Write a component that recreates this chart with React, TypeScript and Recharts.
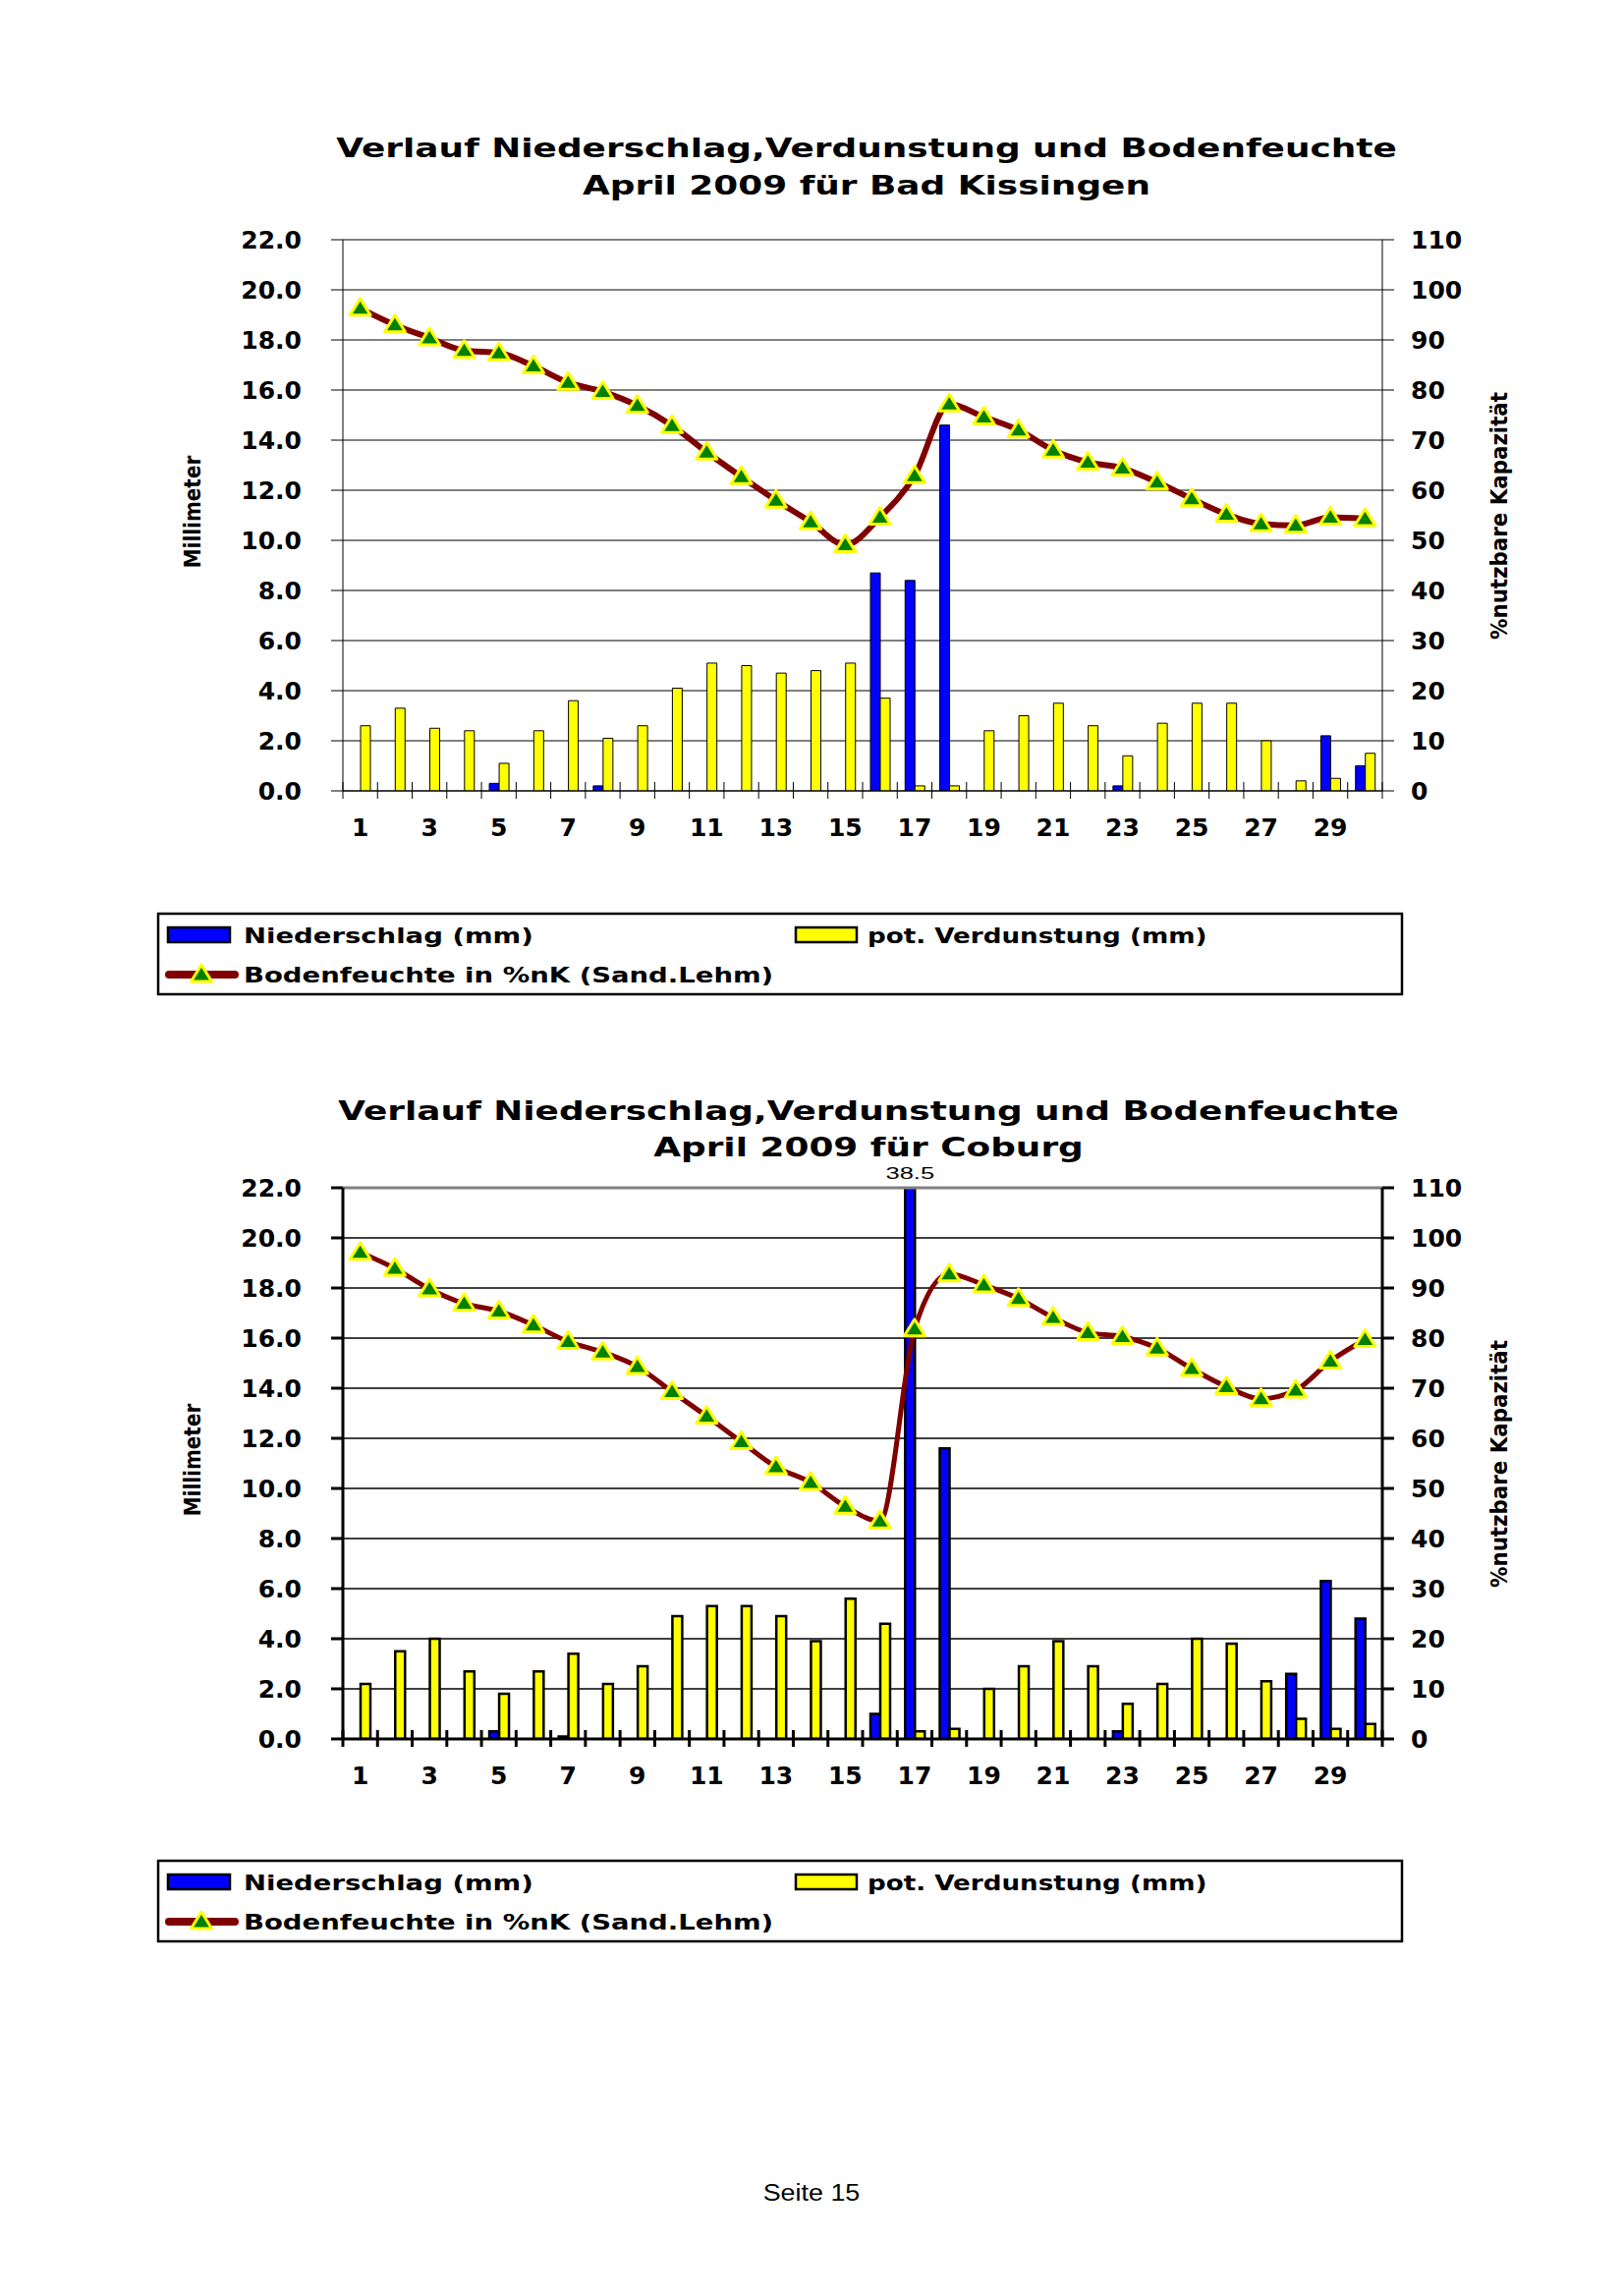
import { ComposedChart, Bar, Line, XAxis, YAxis, CartesianGrid, ReferenceLine, LabelList } from 'recharts';

const days = [1, 2, 3, 4, 5, 6, 7, 8, 9, 10, 11, 12, 13, 14, 15, 16, 17, 18, 19, 20, 21, 22, 23, 24, 25, 26, 27, 28, 29, 30];

// Bad Kissingen
const kissingenNiederschlag = [0, 0, 0, 0, 0.3, 0, 0, 0.2, 0, 0, 0, 0, 0, 0, 0, 8.7, 8.4, 14.6, 0, 0, 0, 0, 0.2, 0, 0, 0, 0, 0, 2.2, 1.0];
const kissingenVerdunstung = [2.6, 3.3, 2.5, 2.4, 1.1, 2.4, 3.6, 2.1, 2.6, 4.1, 5.1, 5.0, 4.7, 4.8, 5.1, 3.7, 0.2, 0.2, 2.4, 3.0, 3.5, 2.6, 1.4, 2.7, 3.5, 3.5, 2.0, 0.4, 0.5, 1.5];
const kissingenBoden = [96.3, 93.0, 90.4, 87.9, 87.4, 84.8, 81.5, 79.7, 76.9, 72.9, 67.6, 62.7, 58.0, 53.7, 49.1, 54.6, 62.9, 77.2, 74.6, 72.0, 68.0, 65.6, 64.4, 61.6, 58.3, 55.2, 53.3, 53.0, 54.6, 54.3];

// Coburg
const coburgNiederschlag = [0, 0, 0, 0, 0.3, 0, 0.1, 0, 0, 0, 0, 0, 0, 0, 0, 1.0, 38.5, 11.6, 0, 0, 0, 0, 0.3, 0, 0, 0, 0, 2.6, 6.3, 4.8];
const coburgVerdunstung = [2.2, 3.5, 4.0, 2.7, 1.8, 2.7, 3.4, 2.2, 2.9, 4.9, 5.3, 5.3, 4.9, 3.9, 5.6, 4.6, 0.3, 0.4, 2.0, 2.9, 3.9, 2.9, 1.4, 2.2, 4.0, 3.8, 2.3, 0.8, 0.4, 0.6];
const coburgBoden = [97.1, 93.9, 89.8, 86.9, 85.4, 82.6, 79.3, 77.2, 74.3, 69.3, 64.4, 59.3, 54.3, 51.2, 46.4, 43.5, 81.8, 92.8, 90.6, 87.9, 84.1, 81.1, 80.3, 78.0, 73.9, 70.3, 67.9, 69.6, 75.4, 79.7];

const mmTicks = [0, 2, 4, 6, 8, 10, 12, 14, 16, 18, 20, 22];
const pctTicks = [0, 10, 20, 30, 40, 50, 60, 70, 80, 90, 100, 110];

const FONT = '"DejaVu Sans", Verdana, sans-serif';
const MM_MAX = 22;
const CHART_W = 1653;
const CHART_H = 900;
const PLOT_TOP = 244;
const PLOT_H = 561;
const PLOT_LEFT = 349;
const PLOT_RIGHT = 1407;
const BAND = (PLOT_RIGHT - PLOT_LEFT) / days.length;

function buildRows(n: number[], v: number[], b: number[]) {
  return days.map((d, i) => ({ day: String(d), n: n[i], v: v[i], b: b[i] }));
}

function Triangle(props: any) {
  const { cx, cy, index } = props;
  if (cx == null || cy == null) return <g key={index} />;
  return (
    <polygon
      key={index}
      points={`${cx},${cy - 10} ${cx - 10.5},${cy + 7} ${cx + 10.5},${cy + 7}`}
      fill="#008000"
      stroke="#FFFF00"
      strokeWidth={3}
      strokeLinejoin="round"
    />
  );
}

function Panel({ rows, heavy }: { rows: any[]; heavy: boolean }) {
  const axisW = heavy ? 3 : 1;
  const last = rows.length - 1;

  const xTick = (props: any) => {
    const { x, y, payload, index } = props;
    const h = BAND / 2;
    return (
      <g>
        <line x1={x - h} x2={x - h} y1={y - 9} y2={y + 8} stroke="#000" strokeWidth={axisW} />
        {index === last && <line x1={x + h} x2={x + h} y1={y - 9} y2={y + 8} stroke="#000" strokeWidth={axisW} />}
        {index % 2 === 0 && (
          <text x={x} y={y + 46} textAnchor="middle" fontFamily={FONT} fontWeight="bold" fontSize={25} fill="#000">
            {payload.value}
          </text>
        )}
      </g>
    );
  };

  const leftTick = (props: any) => (
    <text x={props.x} y={props.y} dy="0.36em" textAnchor="end" fontFamily={FONT} fontWeight="bold" fontSize={25} fill="#000">
      {Number(props.payload.value).toFixed(1)}
    </text>
  );

  const rightTick = (props: any) => (
    <text x={props.x} y={props.y} dy="0.36em" textAnchor="start" fontFamily={FONT} fontWeight="bold" fontSize={25} fill="#000">
      {props.payload.value}
    </text>
  );

  const overflowLabel = (props: any) => {
    const { x, y, width, height, value } = props;
    if (value == null || value <= MM_MAX) return null;
    const cx = x + width / 2;
    const base = y + height - PLOT_H - 9;
    return (
      <g transform={`translate(${cx},${base}) scale(1.5,1)`}>
        <text x={0} y={0} textAnchor="middle" fontFamily='"Liberation Sans", Arial, sans-serif' fontSize={17} fill="#000">
          {value}
        </text>
      </g>
    );
  };

  return (
    <ComposedChart
      width={CHART_W}
      height={CHART_H}
      data={rows}
      margin={{ top: PLOT_TOP, left: PLOT_LEFT - 90, right: CHART_W - PLOT_RIGHT - 90, bottom: CHART_H - PLOT_TOP - PLOT_H - 60 }}
      barGap={0}
    >
      <CartesianGrid vertical={false} yAxisId="left" stroke="#000" strokeWidth={heavy ? 1.3 : 1} />
      <XAxis
        dataKey="day"
        interval={0}
        height={60}
        tickSize={0}
        tickMargin={0}
        tickLine={false}
        axisLine={{ stroke: '#000', strokeWidth: axisW }}
        tick={xTick}
      />
      <YAxis
        yAxisId="left"
        width={90}
        domain={[0, MM_MAX]}
        ticks={mmTicks}
        allowDataOverflow
        tickSize={12}
        tickMargin={30}
        axisLine={{ stroke: '#000', strokeWidth: axisW }}
        tickLine={{ stroke: '#000', strokeWidth: axisW }}
        tick={leftTick}
      />
      <YAxis
        yAxisId="right"
        orientation="right"
        width={90}
        domain={[0, 110]}
        ticks={pctTicks}
        tickSize={12}
        tickMargin={17}
        axisLine={{ stroke: '#000', strokeWidth: axisW }}
        tickLine={{ stroke: '#000', strokeWidth: axisW }}
        tick={rightTick}
      />
      <ReferenceLine yAxisId="left" y={MM_MAX} stroke="#808080" strokeWidth={heavy ? 3 : 2} />
      <Bar yAxisId="left" dataKey="n" barSize={10} fill="#0000FF" stroke="#000" strokeWidth={heavy ? 2.5 : 1} isAnimationActive={false}>
        <LabelList dataKey="n" content={overflowLabel} />
      </Bar>
      <Bar yAxisId="left" dataKey="v" barSize={10} fill="#FFFF00" stroke="#000" strokeWidth={heavy ? 2.5 : 1} isAnimationActive={false} />
      <Line
        yAxisId="right"
        type="monotone"
        dataKey="b"
        stroke="#800000"
        strokeWidth={heavy ? 5 : 6}
        dot={Triangle}
        activeDot={false}
        isAnimationActive={false}
      />
    </ComposedChart>
  );
}

function Legend({ top }: { top: number }) {
  const txt = { fontFamily: FONT, fontWeight: 'bold' as const, fontSize: 22, fill: '#000' };
  return (
    <svg width={1270} height={86} style={{ position: 'absolute', left: 159, top: top - 1 }}>
      <rect x={2} y={2} width={1266} height={82} fill="#fff" stroke="#000" strokeWidth={2.5} />
      <rect x={12} y={16} width={63} height={15} fill="#0000FF" stroke="#000" strokeWidth={2.5} />
      <g transform="translate(89,32) scale(1.25,1)">
        <text {...txt}>Niederschlag (mm)</text>
      </g>
      <rect x={651} y={16} width={62} height={15} fill="#FFFF00" stroke="#000" strokeWidth={2.5} />
      <g transform="translate(724,32) scale(1.19,1)">
        <text {...txt}>pot. Verdunstung (mm)</text>
      </g>
      <line x1={13} x2={80} y1={64} y2={64} stroke="#800000" strokeWidth={8} strokeLinecap="round" />
      <polygon points="46,54 35.5,71 56.5,71" fill="#008000" stroke="#FFFF00" strokeWidth={3} strokeLinejoin="round" />
      <g transform="translate(89,72) scale(1.25,1)">
        <text {...txt}>Bodenfeuchte in %nK (Sand.Lehm)</text>
      </g>
    </svg>
  );
}

function Titles() {
  const t = { fontFamily: FONT, fontWeight: 'bold' as const, fontSize: 27, fill: '#000', textAnchor: 'middle' as const };
  const ax = { fontFamily: FONT, fontWeight: 'bold' as const, fontSize: 23, fill: '#000', textAnchor: 'middle' as const };
  const offsets = [0, 965];
  return (
    <svg width={1653} height={2337} style={{ position: 'absolute', left: 0, top: 0, pointerEvents: 'none' }}>
      <g transform="translate(882,160) scale(1.33,1)">
        <text {...t}>Verlauf Niederschlag,Verdunstung und Bodenfeuchte</text>
      </g>
      <g transform="translate(882,198) scale(1.33,1)">
        <text {...t}>April 2009 für Bad Kissingen</text>
      </g>
      <g transform="translate(884,1140) scale(1.33,1)">
        <text {...t}>Verlauf Niederschlag,Verdunstung und Bodenfeuchte</text>
      </g>
      <g transform="translate(884,1177) scale(1.33,1)">
        <text {...t}>April 2009 für Coburg</text>
      </g>
      {offsets.map((o) => (
        <g key={o}>
          <g transform={`translate(204,${521 + o}) rotate(-90) scale(0.87,1)`}>
            <text {...ax}>Millimeter</text>
          </g>
          <g transform={`translate(1534,${525 + o}) rotate(-90) scale(0.93,1)`}>
            <text {...ax}>%nutzbare Kapazität</text>
          </g>
        </g>
      ))}
      <g transform="translate(826,2240) scale(1.12,1)">
        <text fontFamily='"Liberation Sans", Arial, sans-serif' fontSize={24} fill="#000" textAnchor="middle">
          Seite 15
        </text>
      </g>
    </svg>
  );
}

export default function App() {
  const kissingen = buildRows(kissingenNiederschlag, kissingenVerdunstung, kissingenBoden);
  const coburg = buildRows(coburgNiederschlag, coburgVerdunstung, coburgBoden);
  return (
    <div style={{ position: 'absolute', left: 0, top: 0, width: 1653, height: 2337, background: '#fff', overflow: 'hidden' }}>
      <div style={{ position: 'absolute', left: 0, top: 0 }}>
        <Panel rows={kissingen} heavy={false} />
      </div>
      <div style={{ position: 'absolute', left: 0, top: 965 }}>
        <Panel rows={coburg} heavy={true} />
      </div>
      <Legend top={929} />
      <Legend top={1893} />
      <Titles />
    </div>
  );
}
